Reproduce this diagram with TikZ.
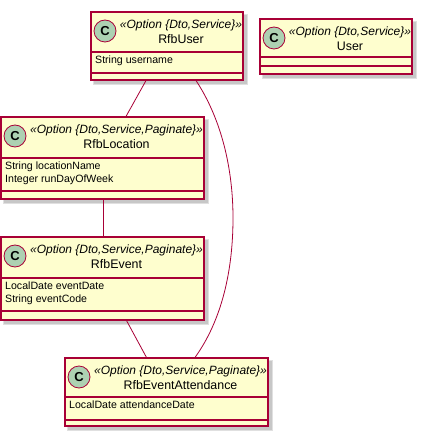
\documentclass[tikz,border=0pt]{standalone}
\usepackage{fontspec}
\setmainfont{Liberation Sans}
\definecolor{boxfill}{HTML}{FEFECE}
\definecolor{boxline}{HTML}{A80036}
\definecolor{circfill}{HTML}{ADD1B2}
\tikzset{
  classbox/.style={draw=boxline, fill=boxfill, line width=1.1pt, rectangle, inner sep=0pt},
  sepline/.style={draw=boxline, line width=1.1pt},
  circ/.style={circle, draw=boxline, fill=circfill, line width=0.8pt, minimum size=22pt, inner sep=0pt, font=\fontsize{13}{13}\selectfont\bfseries},
  stereo/.style={inner sep=0pt, font=\fontsize{12}{12}\selectfont\itshape},
  cname/.style={inner sep=0pt, font=\fontsize{12.4}{12.4}\selectfont},
  attrs/.style={inner sep=0pt, anchor=north west, align=left, font=\fontsize{10.6}{13}\selectfont},
  link/.style={draw=boxline, line width=0.8pt},
}
\newcommand\umlbox[7]{%
  \fill[black!12] ({#2+2},{#3+2}) rectangle ({#4+5},{#5+5});
  \fill[black!22] ({#2+3},{#3+3}) rectangle ({#4+4},{#5+4});
  \node[classbox, minimum width={(#4)-(#2)}, minimum height={(#5)-(#3)}] (#1) at ({(#2+#4)/2},{(#3+#5)/2}) {};
  \draw[sepline] (#2,#6) -- (#4,#6);
  \draw[sepline] (#2,#7) -- (#4,#7);
  \node[circ] (#1-c) at ({#2+14},{#3+19}) {C};
}
\begin{document}
\begin{tikzpicture}[x=1pt,y=-1pt]
\useasboundingbox (0,0) rectangle (424,438);
% RfbUser
\umlbox{rfbuser}{91}{12}{243}{80}{52}{73}
\node[stereo] (rfbuser-s) at ({(91+28+243)/2},25) {«Option \{Dto,Service\}»};
\node[cname] (rfbuser-n) at ({(91+28+243)/2},39) {RfbUser};
\node[attrs] (rfbuser-a) at (95,56) {String username};
% User
\umlbox{user}{260}{19}{412}{74}{57}{66}
\node[stereo] (user-s) at ({(260+28+412)/2},32) {«Option \{Dto,Service\}»};
\node[cname] (user-n) at ({(260+28+412)/2},46) {User};
% RfbLocation
\umlbox{rfbloc}{1}{117}{204}{199}{158}{191}
\node[stereo] (rfbloc-s) at ({(1+28+204)/2},130) {«Option \{Dto,Service,Paginate\}»};
\node[cname] (rfbloc-n) at ({(1+28+204)/2},144) {RfbLocation};
\node[attrs] (rfbloc-a) at (5,162) {String locationName\\Integer runDayOfWeek};
% RfbEvent
\umlbox{rfbevent}{1}{237}{204}{320}{278}{311}
\node[stereo] (rfbevent-s) at ({(1+28+204)/2},250) {«Option \{Dto,Service,Paginate\}»};
\node[cname] (rfbevent-n) at ({(1+28+204)/2},264) {RfbEvent};
\node[attrs] (rfbevent-a) at (5,282) {LocalDate eventDate\\String eventCode};
% RfbEventAttendance
\umlbox{rfbatt}{65}{358}{268}{426}{397}{420}
\node[stereo] (rfbatt-s) at ({(65+28+268)/2},371) {«Option \{Dto,Service,Paginate\}»};
\node[cname] (rfbatt-n) at ({(65+28+268)/2},385) {RfbEventAttendance};
\node[attrs] (rfbatt-a) at (69,401) {LocalDate attendanceDate};
% connectors
\draw[link] ([xshift=-21pt]rfbuser.south) -- ([xshift=23.5pt]rfbloc.north);
\draw[link] ([xshift=0.5pt]rfbloc.south) -- ([xshift=0.5pt]rfbevent.north);
\draw[link] ([xshift=24pt]rfbevent.south) -- ([xshift=-20pt]rfbatt.north);
\coordinate (bend) at (233,218);
\draw[link] ([xshift=29pt]rfbuser.south) .. controls (222,120) and (233,170) .. (bend)
  .. controls (233,270) and (222,320) .. ([xshift=28.5pt]rfbatt.north);
\end{tikzpicture}
\end{document}
